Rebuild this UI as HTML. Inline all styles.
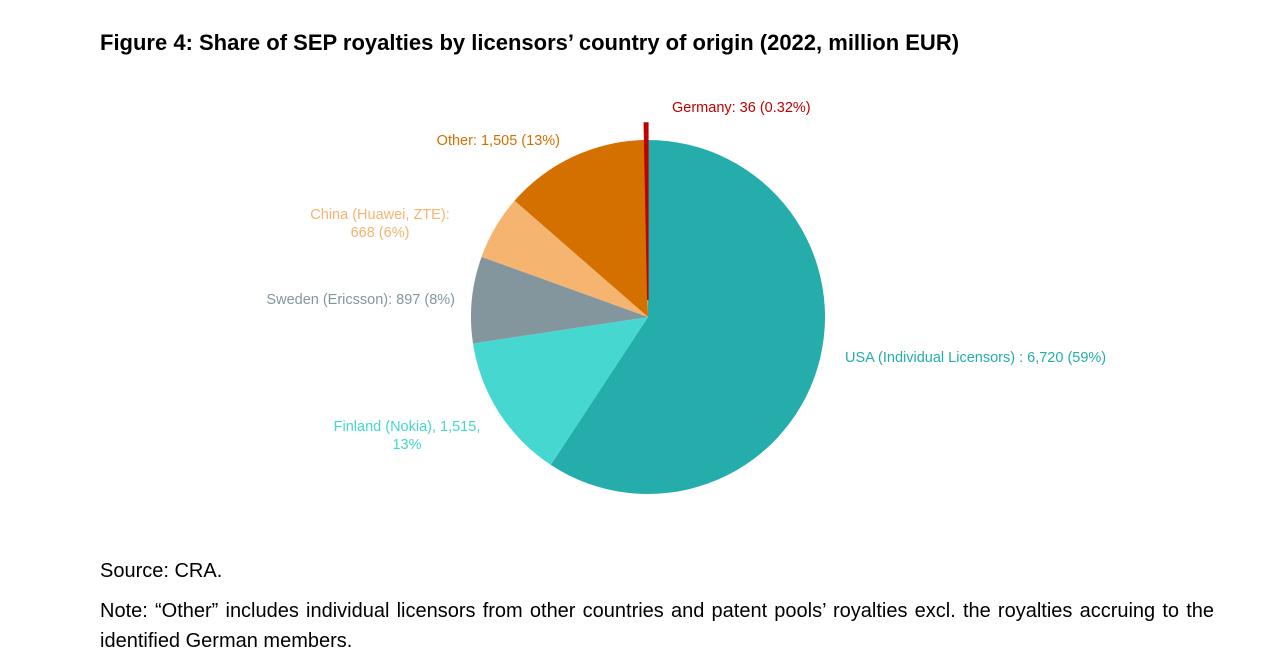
<!DOCTYPE html>
<html><head><meta charset="utf-8">
<style>
body{margin:0;background:#fff;width:1280px;height:667px;overflow:hidden;font-family:"Liberation Sans",Arial,sans-serif;}
.title{position:absolute;left:100px;top:30px;font-size:22px;font-weight:bold;color:#000;}
.src{position:absolute;left:100px;top:560px;font-size:20px;color:#000;}
.note{position:absolute;left:100px;top:596px;width:1114px;font-size:20px;line-height:30px;color:#000;text-align:justify;}
svg{position:absolute;left:0;top:0;}
</style></head><body>
<div class="title">Figure 4: Share of SEP royalties by licensors’ country of origin (2022, million EUR)</div>
<svg width="1280" height="667">
<g id="slices"></g>
<g id="labels" font-size="14.5"></g>
</svg>
<div class="src">Source: CRA.</div>
<div class="note">Note: “Other” includes individual licensors from other countries and patent pools’ royalties excl. the royalties accruing to the identified German members.</div>
<script>
const categories=["USA (Individual Licensors)","Finland (Nokia)","Sweden (Ericsson)","China (Huawei, ZTE)","Other","Germany"];
const values=[6720,1515,897,668,1505,36];
const labelLines=[["USA (Individual Licensors) : 6,720 (59%)"],["Finland (Nokia), 1,515,","13%"],["Sweden (Ericsson): 897 (8%)"],["China (Huawei, ZTE):","668 (6%)"],["Other: 1,505 (13%)"],["Germany: 36 (0.32%)"]];
const colors=["#24ADAB","#45D7D0","#83969E","#F5B46F","#D37000","#C00000"];
const labelPos=[[845,362,"start"],[407,431,"middle"],[455,304,"end"],[380,219,"middle"],[560,145,"end"],[672,112,"start"]];
const cx=648,cy=317,r=177;
const total=values.reduce((a,b)=>a+b,0);
const ns="http://www.w3.org/2000/svg";
const gs=document.getElementById('slices'),gl=document.getElementById('labels');
let a0=0;
values.forEach((v,i)=>{
  const a1=a0+v/total*2*Math.PI;
  const mid=(a0+a1)/2;
  const off=i===values.length-1?17:0;
  const ox=cx+off*Math.sin(mid),oy=cy-off*Math.cos(mid);
  const p=(a)=>[ox+r*Math.sin(a),oy-r*Math.cos(a)];
  const s=p(a0),e=p(a1);
  const large=(a1-a0)>Math.PI?1:0;
  const path=document.createElementNS(ns,'path');
  path.setAttribute('d',`M${ox},${oy}L${s[0]},${s[1]}A${r},${r} 0 ${large} 1 ${e[0]},${e[1]}Z`);
  path.setAttribute('fill',colors[i]);
  if(i===values.length-1){path.setAttribute('stroke',colors[i]);path.setAttribute('stroke-width','1.5');}
  
  
  gs.appendChild(path);
  const t=document.createElementNS(ns,'text');
  t.setAttribute('x',labelPos[i][0]);t.setAttribute('y',labelPos[i][1]);
  t.setAttribute('text-anchor',labelPos[i][2]);t.setAttribute('fill',colors[i]);
  labelLines[i].forEach((ln,j)=>{const ts=document.createElementNS(ns,'tspan');ts.setAttribute('x',labelPos[i][0]);ts.setAttribute('dy',j?18:0);ts.textContent=ln;t.appendChild(ts);});
  
  
  gl.appendChild(t);
  a0=a1;
});
</script>
</body></html>
